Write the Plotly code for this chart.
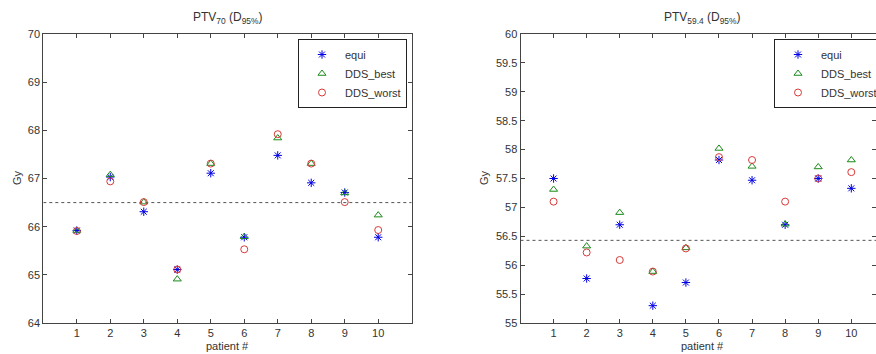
import plotly.graph_objects as go

W, H = 876, 354

patients = [1, 2, 3, 4, 5, 6, 7, 8, 9, 10]

# PTV70 (D95%)
ptv70_equi = [65.92, 67.03, 66.31, 65.11, 67.11, 65.78, 67.48, 66.91, 66.71, 65.78]
ptv70_best = [65.92, 67.08, 66.51, 64.91, 67.31, 65.79, 67.84, 67.31, 66.70, 66.24]
ptv70_worst = [65.91, 66.94, 66.51, 65.11, 67.31, 65.53, 67.92, 67.31, 66.51, 65.93]
ptv70_ref = 66.5

# PTV59.4 (D95%)
ptv594_equi = [57.50, 55.77, 56.70, 55.30, 55.70, 57.82, 57.47, 56.70, 57.50, 57.33]
ptv594_best = [57.31, 56.33, 56.91, 55.89, 56.30, 58.02, 57.71, 56.71, 57.70, 57.82]
ptv594_worst = [57.10, 56.22, 56.09, 55.89, 56.29, 57.87, 57.82, 57.10, 57.50, 57.61]
ptv594_ref = 56.43

left_yticks = [64, 65, 66, 67, 68, 69, 70]
right_yticks = [55, 55.5, 56, 56.5, 57, 57.5, 58, 58.5, 59, 59.5, 60]
right_ytext = ["55", "55.5", "56", "56.5", "57", "57.5", "58", "58.5", "59", "59.5", "60"]

series_names = ["equi", "DDS_best", "DDS_worst"]
symbols = ["asterisk-open", "triangle-up-open", "circle-open"]
colors = ["#0000e6", "#1a8a1a", "#d83a3a"]

FONT = "Liberation Sans, Arial, Helvetica, sans-serif"
TXT = "#333333"

fig = go.Figure()


def add_panel(vals_list, ref, xa, ya, legend):
    fig.add_trace(go.Scatter(
        x=[0, 11], y=[ref, ref], mode="lines",
        line=dict(color="#555555", width=1, dash="dot"),
        xaxis=xa, yaxis=ya, showlegend=False, hoverinfo="skip"))
    for name, vals, sym, col in zip(series_names, vals_list, symbols, colors):
        fig.add_trace(go.Scatter(
            x=patients, y=vals, mode="markers", name=name,
            marker=dict(symbol=sym, size=7, color=col, line=dict(color=col, width=1)),
            xaxis=xa, yaxis=ya, legend=legend))


add_panel([ptv70_equi, ptv70_best, ptv70_worst], ptv70_ref, "x", "y", "legend")
add_panel([ptv594_equi, ptv594_best, ptv594_worst], ptv594_ref, "x2", "y2", "legend2")

# geometry (pixels)
L1, R1 = 43.3, 411.7
L2 = 520.5
unit2 = 33.08
R2full = L2 + 11 * unit2
TOP, BOT = 34.0, 323.0

axis_common = dict(showline=True, linecolor="#444444", linewidth=1, mirror="ticks",
                   ticks="inside", ticklen=4, tickcolor="#444444", showgrid=False,
                   zeroline=False, tickfont=dict(family=FONT, size=11, color=TXT))

legend_common = dict(y=1 - 39 / H, yanchor="top", bordercolor="#222222", borderwidth=1,
                     bgcolor="white", font=dict(family=FONT, size=11, color=TXT),
                     tracegroupgap=0, itemwidth=36)

fig.update_layout(
    width=W, height=H,
    margin=dict(l=0, r=0, t=0, b=0, autoexpand=False),
    paper_bgcolor="white", plot_bgcolor="white",
    xaxis=dict(domain=[L1 / W, R1 / W], range=[0, 11], tickvals=patients, **axis_common),
    yaxis=dict(domain=[1 - BOT / H, 1 - TOP / H], range=[64, 70], tickvals=left_yticks, **axis_common),
    xaxis2=dict(domain=[L2 / W, 1.0], range=[0, (W - L2) / unit2], tickvals=patients,
                anchor="y2", **axis_common),
    yaxis2=dict(domain=[1 - BOT / H, 1 - TOP / H], range=[55, 60], tickvals=right_yticks,
                ticktext=right_ytext, anchor="x2", **axis_common),
    legend=dict(x=407 / W, xanchor="right", **legend_common),
    legend2=dict(x=774 / W, xanchor="left", **legend_common),
    showlegend=True,
)

ann_font = dict(family=FONT, size=11, color=TXT)
title_font = dict(family=FONT, size=12, color=TXT)
annotations = [
    dict(text="PTV<sub>70</sub> (D<sub>95%</sub>)", x=(L1 + R1) / 2 / W, y=1 - 18 / H,
         xref="paper", yref="paper", showarrow=False, xanchor="center", yanchor="middle", font=title_font),
    dict(text="PTV<sub>59.4</sub> (D<sub>95%</sub>)", x=(L2 + R2full) / 2 / W, y=1 - 18 / H,
         xref="paper", yref="paper", showarrow=False, xanchor="center", yanchor="middle", font=title_font),
    dict(text="patient #", x=(L1 + R1) / 2 / W, y=1 - 346 / H,
         xref="paper", yref="paper", showarrow=False, xanchor="center", yanchor="middle", font=ann_font),
    dict(text="patient #", x=(L2 + R2full) / 2 / W, y=1 - 346 / H,
         xref="paper", yref="paper", showarrow=False, xanchor="center", yanchor="middle", font=ann_font),
    dict(text="Gy", x=17 / W, y=1 - 178 / H, textangle=-90,
         xref="paper", yref="paper", showarrow=False, xanchor="center", yanchor="middle", font=ann_font),
    dict(text="Gy", x=484 / W, y=1 - 178 / H, textangle=-90,
         xref="paper", yref="paper", showarrow=False, xanchor="center", yanchor="middle", font=ann_font),
]
fig.update_layout(annotations=annotations)

fig.write_html("out.html", config={"displayModeBar": False},
               post_script="document.body.style.margin='0px';document.body.style.overflow='hidden';")
